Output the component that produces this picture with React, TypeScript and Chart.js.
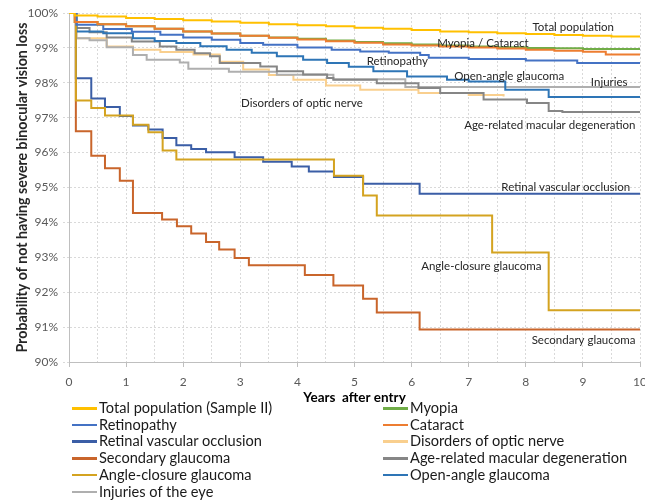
import React, { useEffect, useRef } from 'react';
import { Chart, registerables } from 'chart.js';

Chart.register(...registerables);

// ---------- data (years after entry, survival %) ----------
const totalYears = [0, 0.1, 0.5, 1, 1.5, 2, 2.5, 3, 3.5, 4, 4.5, 5, 5.5, 6, 6.5, 7, 7.5, 8, 8.5, 9, 9.5, 10];
const totalSurv = [100, 99.93, 99.9, 99.86, 99.83, 99.79, 99.76, 99.72, 99.68, 99.65, 99.62, 99.58, 99.55, 99.51, 99.47, 99.45, 99.42, 99.4, 99.37, 99.35, 99.33, 99.31];

const myopiaYears = [0, 0.1, 0.5, 1, 1.5, 2, 2.5, 3, 3.5, 4, 4.5, 5, 5.5, 6, 6.5, 7, 7.5, 8, 8.5, 9, 10];
const myopiaSurv = [100, 99.74, 99.68, 99.62, 99.55, 99.47, 99.41, 99.35, 99.3, 99.26, 99.21, 99.17, 99.13, 99.1, 99.07, 99.04, 99.02, 99.0, 98.99, 98.97, 98.96];

const retinopathyYears = [0, 0.13, 0.6, 1.1, 1.6, 2.0, 2.5, 3.0, 3.4, 4.0, 4.6, 5.1, 5.6, 6.15, 6.3, 7.0, 8.0, 8.9, 10];
const retinopathySurv = [100, 99.66, 99.54, 99.46, 99.38, 99.3, 99.23, 99.14, 99.09, 99.01, 98.95, 98.9, 98.86, 98.8, 98.72, 98.68, 98.64, 98.57, 98.57];

const cataractYears = [0, 0.1, 0.5, 1, 1.5, 2, 2.5, 3, 3.5, 4, 4.5, 5, 5.5, 6, 6.5, 7, 7.5, 8, 8.5, 9, 9.4, 10];
const cataractSurv = [100, 99.74, 99.68, 99.62, 99.55, 99.47, 99.41, 99.35, 99.29, 99.24, 99.19, 99.15, 99.1, 99.07, 99.04, 99.01, 98.98, 98.95, 98.92, 98.89, 98.81, 98.79];

const rvoYears = [0, 0.12, 0.39, 0.63, 0.89, 1.12, 1.39, 1.64, 1.88, 2.14, 2.4, 2.9, 3.4, 3.9, 4.2, 4.64, 5.15, 6.14, 10];
const rvoSurv = [100, 98.13, 97.55, 97.31, 97.05, 96.78, 96.66, 96.42, 96.21, 96.1, 96.01, 95.87, 95.74, 95.6, 95.46, 95.3, 95.11, 94.82, 94.82];

const opticYears = [0, 0.13, 0.66, 1.12, 1.6, 2.18, 2.64, 3.05, 3.5, 3.93, 4.5, 5.1, 6.12, 7.0, 7.61];
const opticSurv = [100, 99.28, 99.04, 98.95, 98.88, 98.81, 98.6, 98.38, 98.22, 98.09, 97.92, 97.8, 97.71, 97.65, 97.61];

const secondaryYears = [0, 0.12, 0.39, 0.63, 0.89, 1.12, 1.63, 1.89, 2.14, 2.4, 2.63, 2.9, 3.15, 4.13, 4.63, 5.15, 5.39, 6.14, 10];
const secondarySurv = [100, 96.61, 95.91, 95.55, 95.19, 94.27, 94.08, 93.89, 93.68, 93.44, 93.22, 92.98, 92.77, 92.49, 92.19, 91.81, 91.42, 90.93, 90.93];

const amdYears = [0, 0.13, 0.36, 0.66, 1.1, 1.59, 1.88, 2.2, 2.47, 2.64, 3.35, 3.64, 4.1, 4.52, 4.63, 5.39, 6.12, 6.5, 7.26, 8.02, 8.4, 8.64, 10];
const amdSurv = [100, 99.57, 99.45, 99.3, 99.18, 99.04, 98.95, 98.85, 98.76, 98.57, 98.47, 98.33, 98.24, 98.14, 98.09, 97.99, 97.85, 97.71, 97.52, 97.42, 97.19, 97.16, 97.16];

const angleYears = [0, 0.12, 0.39, 0.63, 1.12, 1.39, 1.64, 1.88, 4.64, 5.15, 5.39, 7.41, 8.4, 10];
const angleSurv = [100, 97.49, 97.28, 97.06, 96.8, 96.58, 96.06, 95.8, 95.34, 94.77, 94.2, 93.14, 91.48, 91.48];

const openYears = [0, 0.13, 0.6, 1.12, 1.5, 1.88, 2.3, 2.76, 3.2, 3.64, 4.1, 4.52, 4.9, 5.33, 5.92, 6.62, 7.0, 7.64, 8.4, 10];
const openSurv = [100, 99.47, 99.42, 99.28, 99.2, 99.14, 99.05, 98.95, 98.86, 98.76, 98.66, 98.57, 98.46, 98.33, 98.18, 98.09, 98.04, 97.8, 97.59, 97.59];

const injuryYears = [0, 0.13, 0.36, 0.66, 1.12, 1.36, 1.94, 2.09, 2.8, 3.64, 4.63, 5.89, 10];
const injurySurv = [100, 99.28, 99.22, 99.02, 98.8, 98.66, 98.58, 98.4, 98.32, 98.23, 98.1, 97.88, 97.88];

const seriesNames = [
  'Total population (Sample II)', 'Myopia', 'Retinopathy', 'Cataract',
  'Retinal vascular occlusion', 'Disorders of optic nerve', 'Secondary glaucoma',
  'Age-related macular degeneration', 'Angle-closure glaucoma', 'Open-angle glaucoma',
  'Injuries of the eye',
];
const seriesYears = [totalYears, myopiaYears, retinopathyYears, cataractYears, rvoYears, opticYears, secondaryYears, amdYears, angleYears, openYears, injuryYears];
const seriesSurv = [totalSurv, myopiaSurv, retinopathySurv, cataractSurv, rvoSurv, opticSurv, secondarySurv, amdSurv, angleSurv, openSurv, injurySurv];

const xTickValues = [0, 1, 2, 3, 4, 5, 6, 7, 8, 9, 10];

// in-plot annotation labels and their anchor (years, %)
const noteTexts = ['Total population', 'Myopia / Cataract', 'Retinopathy', 'Open-angle glaucoma', 'Injuries', 'Disorders of optic nerve', 'Age-related macular degeneration', 'Retinal vascular occlusion', 'Angle-closure glaucoma', 'Secondary glaucoma'];
const noteYears = [8.83, 7.25, 5.75, 7.71, 9.46, 4.08, 8.42, 8.7, 7.22, 9.01];
const noteSurv = [99.59, 99.14, 98.63, 98.2, 98.01, 97.4, 96.78, 95.0, 92.74, 90.62];

// ---------- styles ----------
const seriesColors = ['#FFC000', '#70AD47', '#4472C4', '#ED7D31', '#3B5EA6', '#F9CF8E', '#C9652B', '#868686', '#D4A320', '#2E75B6', '#AFAFAF'];
// drawing order: first listed is drawn on top
const drawOrder = [0, 3, 1, 2, 8, 4, 6, 9, 7, 10, 5];
const FONT = "Lato, 'Open Sans', sans-serif";

const notesPlugin = {
  id: 'notes',
  afterDatasetsDraw(chart: any) {
    const { ctx, scales } = chart;
    ctx.save();
    ctx.font = `11.5px ${FONT}`;
    ctx.fillStyle = '#262626';
    ctx.textAlign = 'center';
    ctx.textBaseline = 'middle';
    noteTexts.forEach((t, i) => {
      ctx.fillText(t, scales.x.getPixelForValue(noteYears[i]), scales.y.getPixelForValue(noteSurv[i]));
    });
    ctx.restore();
  },
};

export default function App() {
  const ref = useRef<HTMLCanvasElement>(null);
  useEffect(() => {
    const datasets = drawOrder.map((i) => ({
      label: seriesNames[i],
      data: seriesYears[i].map((x, j) => ({ x, y: seriesSurv[i][j] })),
      borderColor: seriesColors[i],
      backgroundColor: seriesColors[i],
      borderWidth: 2,
      pointRadius: 0,
      stepped: true,
      fill: false,
    }));
    const chart = new Chart(ref.current!, {
      type: 'line',
      data: { datasets },
      options: {
        animation: false,
        responsive: false,
        devicePixelRatio: 1,
        layout: { padding: { top: 13, right: 6, left: 0, bottom: 0 } },
        plugins: { legend: { display: false }, tooltip: { enabled: false } },
        scales: {
          x: {
            type: 'linear',
            min: 0,
            max: 10,
            afterFit: (s: any) => { s.height = 46; },
            afterBuildTicks: (s: any) => {
              const t: any[] = [];
              xTickValues.forEach((v, i) => {
                t.push({ value: v });
                if (i < xTickValues.length - 1) t.push({ value: v + 0.5 });
              });
              s.ticks = t;
            },
            ticks: {
              autoSkip: false,
              maxRotation: 0,
              padding: 8,
              color: '#595959',
              font: { family: FONT, size: 12 },
              callback: (v: any) => (Number.isInteger(v) ? String(v) : ''),
            },
            grid: {
              color: '#D9D9D9',
              tickLength: 5,
              tickColor: (c: any) => (c.tick && Number.isInteger(c.tick.value) ? '#BFBFBF' : 'rgba(0,0,0,0)'),
            },
            border: { color: '#BFBFBF', width: 1, dash: [2, 2] },
            title: {
              display: true,
              text: 'Years  after entry',
              color: '#000',
              font: { family: FONT, size: 13.5, weight: 'bold' },
              padding: { top: 0, bottom: 2 },
            },
          },
          y: {
            min: 90,
            max: 100,
            afterFit: (s: any) => { s.width = 69; },
            ticks: {
              stepSize: 1,
              padding: 5,
              color: '#595959',
              font: { family: FONT, size: 12 },
              callback: (v: any) => `${v}%`,
            },
            grid: { color: '#D9D9D9', tickLength: 6, tickColor: '#D9D9D9', tickBorderDash: [2, 2] },
            border: { color: '#BFBFBF', width: 1, dash: [2, 2] },
            title: {
              display: true,
              text: 'Probability of not having severe binocular vision loss',
              color: '#262626',
              font: { family: FONT, size: 14.2, weight: 'bold' },
              padding: { top: 13.5, bottom: 0 },
            },
          },
        },
      },
      plugins: [notesPlugin],
    } as any);
    return () => chart.destroy();
  }, []);

  return (
    <div style={{ position: 'absolute', left: 0, top: 0, width: 645, height: 502, overflow: 'hidden', background: '#fff' }}>
      <canvas ref={ref} width={655} height={408} style={{ display: 'block', width: 655, height: 408 }} />
      {seriesNames.map((name, i) => {
        const row = Math.floor(i / 2);
        const col = i % 2;
        const cy = 408 + row * 16.7;
        const lx = col === 0 ? 72 : 383;
        return (
          <React.Fragment key={name}>
            <div style={{ position: 'absolute', left: lx, top: cy - 1, width: 25, height: 2.5, background: seriesColors[i] }} />
            <div style={{ position: 'absolute', left: lx + 27, top: cy - 9, height: 18, lineHeight: '18px', fontFamily: FONT, fontSize: 14.6, color: '#1a1a1a', whiteSpace: 'nowrap' }}>{name}</div>
          </React.Fragment>
        );
      })}
    </div>
  );
}
